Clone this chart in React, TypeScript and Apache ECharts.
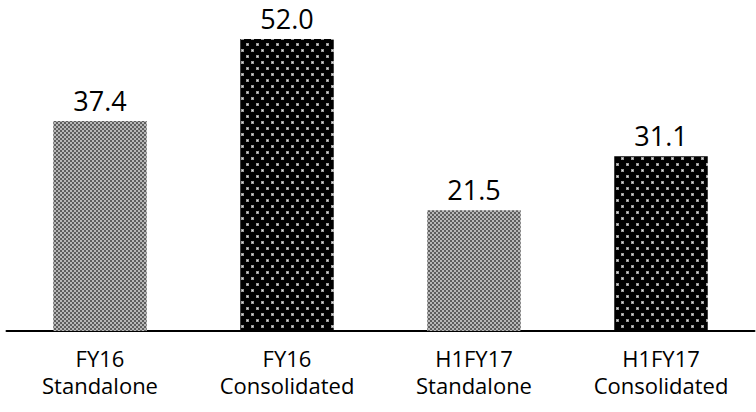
import React, { useEffect, useRef } from "react";
import * as echarts from "echarts";

const categories = ["FY16\nStandalone", "FY16\nConsolidated", "H1FY17\nStandalone", "H1FY17\nConsolidated"];
const values = [37.4, 52.0, 21.5, 31.1];
const patternKind = ["checker", "dots", "checker", "dots"];

function makeChecker(): string {
  const c = document.createElement("canvas");
  c.width = 4;
  c.height = 4;
  const ctx = c.getContext("2d")!;
  ctx.fillStyle = "#5e5e5e";
  ctx.fillRect(0, 0, 4, 4);
  ctx.fillStyle = "#b8b8b8";
  ctx.fillRect(0, 0, 2, 2);
  ctx.fillRect(2, 2, 2, 2);
  return c.toDataURL();
}

function makeDots(): string {
  const c = document.createElement("canvas");
  c.width = 10;
  c.height = 12;
  const ctx = c.getContext("2d")!;
  ctx.fillStyle = "#000000";
  ctx.fillRect(0, 0, 10, 12);
  ctx.fillStyle = "#9a9a9a";
  ctx.fillRect(1, 1, 3, 3);
  ctx.fillRect(6, 7, 3, 3);
  ctx.fillStyle = "#e0e0e0";
  ctx.fillRect(2, 2, 1, 1);
  ctx.fillRect(7, 8, 1, 1);
  return c.toDataURL();
}

export default function App() {
  const ref = useRef<HTMLDivElement>(null);
  useEffect(() => {
    if (!ref.current) return;
    const chart = echarts.init(ref.current, undefined, { renderer: "svg" });
    const checker = makeChecker();
    const dots = makeDots();
    chart.setOption({
      animation: false,
      grid: { left: 6.5, right: 1.5, top: 39, bottom: 81 },
      xAxis: {
        type: "category",
        data: categories,
        axisLine: { show: true, lineStyle: { color: "#000", width: 2 } },
        axisTick: { show: false },
        axisLabel: {
          color: "#000",
          fontFamily: "Open Sans",
          fontSize: 22,
          lineHeight: 27.5,
          margin: 13,
          interval: 0,
        },
      },
      yAxis: {
        type: "value",
        min: 0,
        max: 52,
        show: false,
        splitLine: { show: false },
      },
      series: [
        {
          type: "bar",
          barWidth: "50%",
          data: values.map((v, i) => ({
            value: v,
            itemStyle: {
              color: { image: patternKind[i] === "checker" ? checker : dots, repeat: "repeat" },
            },
          })),
          label: {
            show: true,
            position: "top",
            distance: 7,
            color: "#000",
            fontFamily: "Open Sans",
            fontSize: 27,
            formatter: (p: any) => Number(p.value).toFixed(1),
          },
        },
      ],
    });
    return () => chart.dispose();
  }, []);
  return (
    <div
      ref={ref}
      style={{ position: "fixed", left: 0, top: 0, width: 756, height: 412, background: "#fff" }}
    />
  );
}
